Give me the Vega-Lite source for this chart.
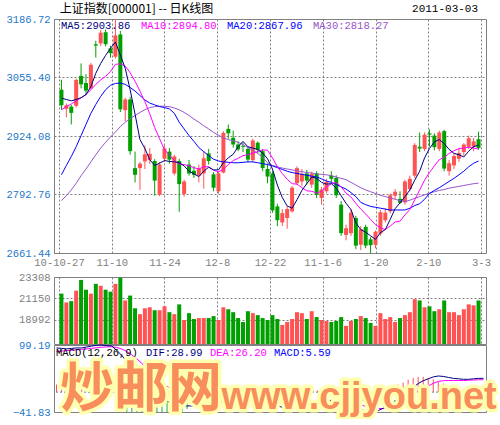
{
  "$schema": "https://vega.github.io/schema/vega-lite/v6.json",
  "background": "white",
  "padding": {"left": 5, "top": 2, "right": 0, "bottom": 0},
  "spacing": 24,
  "bounds": "flush",
  "config": {
    "view": {"stroke": "#808080", "strokeWidth": 1},
    "axis": {"labelFont": "Liberation Mono", "labelFontSize": 10.5, "ticks": false, "domain": false, "gridColor": "#808080", "gridDash": [2, 2], "gridOpacity": 1, "labelPadding": 4},
    "text": {"font": "Liberation Mono", "fontSize": 10.5}
  },
  "datasets": {
    "k": [
      {"d":"2010-10-27","i":0,"o":3028,"h":3050,"l":2983,"c":2993,"v":21640,"ma5":3009,"ma10":2983,"ma20":2837,"ma30":2779,"dif":93,"dea":85,"macd":16},
      {"d":"2010-10-28","i":1,"o":2985,"h":2997,"l":2966,"c":2993,"v":20757,"ma5":3006,"ma10":2990,"ma20":2858,"ma30":2790,"dif":92,"dea":86.4,"macd":11.2},
      {"d":"2010-10-29","i":2,"o":2990,"h":2994,"l":2950,"c":2976,"v":20885,"ma5":3003,"ma10":2996,"ma20":2878,"ma30":2803,"dif":91,"dea":87.3,"macd":7.4},
      {"d":"2010-11-01","i":3,"o":2992,"h":3053,"l":2988,"c":3050,"v":21935,"ma5":3006,"ma10":3003,"ma20":2900,"ma30":2818,"dif":92,"dea":88.2,"macd":7.6},
      {"d":"2010-11-02","i":4,"o":3059,"h":3087,"l":3031,"c":3040,"v":23014,"ma5":3010,"ma10":3010,"ma20":2925,"ma30":2835,"dif":93,"dea":89.2,"macd":7.6},
      {"d":"2010-11-03","i":5,"o":3043,"h":3063,"l":3016,"c":3026,"v":22033,"ma5":3017,"ma10":3017,"ma20":2950,"ma30":2850,"dif":93,"dea":90,"macd":6},
      {"d":"2010-11-04","i":6,"o":3031,"h":3088,"l":3029,"c":3084,"v":21640,"ma5":3035,"ma10":3028,"ma20":2975,"ma30":2866,"dif":95,"dea":91,"macd":8},
      {"d":"2010-11-05","i":7,"o":3130,"h":3138,"l":3100,"c":3127,"v":22621,"ma5":3065,"ma10":3040,"ma20":2995,"ma30":2882,"dif":97,"dea":92.2,"macd":9.6},
      {"d":"2010-11-08","i":8,"o":3132,"h":3162,"l":3126,"c":3156,"v":22425,"ma5":3087,"ma10":3050,"ma20":3013,"ma30":2897,"dif":98.5,"dea":93.5,"macd":10},
      {"d":"2010-11-09","i":9,"o":3157,"h":3163,"l":3125,"c":3130,"v":22033,"ma5":3105,"ma10":3058,"ma20":3028,"ma30":2910,"dif":99.19,"dea":94.6,"macd":9.18},
      {"d":"2010-11-10","i":10,"o":3121,"h":3127,"l":3100,"c":3110,"v":21837,"ma5":3121,"ma10":3069,"ma20":3038,"ma30":2922,"dif":98,"dea":95.3,"macd":5.4},
      {"d":"2010-11-11","i":11,"o":3102,"h":3186.72,"l":3098,"c":3150,"v":22621,"ma5":3135,"ma10":3085,"ma20":3042,"ma30":2933,"dif":97,"dea":95.6,"macd":2.8},
      {"d":"2010-11-12","i":12,"o":3152,"h":3160,"l":2978,"c":2984,"v":23245,"ma5":3106,"ma10":3086,"ma20":3043,"ma30":2945,"dif":88,"dea":94.1,"macd":-12.2},
      {"d":"2010-11-15","i":13,"o":2982,"h":3010,"l":2957,"c":3006,"v":20954,"ma5":3076,"ma10":3081,"ma20":3040,"ma30":2955,"dif":77,"dea":90.7,"macd":-27.4},
      {"d":"2010-11-16","i":14,"o":3006,"h":3012,"l":2882,"c":2890,"v":21444,"ma5":3028,"ma10":3066,"ma20":3033,"ma30":2963,"dif":64,"dea":85.4,"macd":-42.8},
      {"d":"2010-11-17","i":15,"o":2852,"h":2889,"l":2820,"c":2837,"v":20169,"ma5":2973,"ma10":3047,"ma20":3025,"ma30":2970,"dif":50,"dea":78.3,"macd":-56.6},
      {"d":"2010-11-18","i":16,"o":2852,"h":2866,"l":2803,"c":2862,"v":19580,"ma5":2916,"ma10":3025,"ma20":3015,"ma30":2977,"dif":37,"dea":70,"macd":-66},
      {"d":"2010-11-19","i":17,"o":2867,"h":2903,"l":2850,"c":2883,"v":20169,"ma5":2896,"ma10":3001,"ma20":3005,"ma30":2983,"dif":22,"dea":60.4,"macd":-76.8},
      {"d":"2010-11-22","i":18,"o":2870,"h":2897,"l":2861,"c":2884,"v":20267,"ma5":2871,"ma10":2974,"ma20":2998,"ma30":2988,"dif":10,"dea":50.3,"macd":-80.6},
      {"d":"2010-11-23","i":19,"o":2868,"h":2872,"l":2790,"c":2824,"v":19973,"ma5":2858,"ma10":2943,"ma20":2994,"ma30":2990,"dif":-4,"dea":39.4,"macd":-86.8},
      {"d":"2010-11-24","i":20,"o":2792,"h":2866,"l":2789,"c":2860,"v":19973,"ma5":2863,"ma10":2918,"ma20":2990,"ma30":2991,"dif":-11,"dea":29.3,"macd":-80.6},
      {"d":"2010-11-25","i":21,"o":2873,"h":2903,"l":2866,"c":2896,"v":20365,"ma5":2869,"ma10":2893,"ma20":2988,"ma30":2991,"dif":-15,"dea":20.4,"macd":-70.8},
      {"d":"2010-11-26","i":22,"o":2889,"h":2897,"l":2862,"c":2871,"v":19777,"ma5":2867,"ma10":2881,"ma20":2985,"ma30":2990,"dif":-19,"dea":12.5,"macd":-63},
      {"d":"2010-11-29","i":23,"o":2840,"h":2882,"l":2836,"c":2878,"v":19580,"ma5":2866,"ma10":2869,"ma20":2975,"ma30":2987,"dif":-24,"dea":5.2,"macd":-58.4},
      {"d":"2010-11-30","i":24,"o":2868,"h":2873,"l":2754,"c":2816,"v":20561,"ma5":2864,"ma10":2861,"ma20":2955,"ma30":2983,"dif":-28,"dea":-1.4,"macd":-53.2},
      {"d":"2010-12-01","i":25,"o":2794,"h":2826,"l":2788,"c":2822,"v":18992,"ma5":2857,"ma10":2860,"ma20":2940,"ma30":2977,"dif":-29,"dea":-6.9,"macd":-44.2},
      {"d":"2010-12-02","i":26,"o":2860,"h":2870,"l":2835,"c":2840,"v":19679,"ma5":2845,"ma10":2857,"ma20":2925,"ma30":2970,"dif":-29,"dea":-11.3,"macd":-35.4},
      {"d":"2010-12-03","i":27,"o":2846,"h":2856,"l":2830,"c":2837,"v":19090,"ma5":2839,"ma10":2853,"ma20":2912,"ma30":2962,"dif":-29,"dea":-14.8,"macd":-28.4},
      {"d":"2010-12-06","i":28,"o":2835,"h":2860,"l":2820,"c":2852,"v":19188,"ma5":2833,"ma10":2850,"ma20":2898,"ma30":2955,"dif":-29,"dea":-17.6,"macd":-22.8},
      {"d":"2010-12-07","i":29,"o":2840,"h":2890,"l":2806,"c":2874,"v":19188,"ma5":2845,"ma10":2855,"ma20":2889,"ma30":2947,"dif":-29,"dea":-19.9,"macd":-18.2},
      {"d":"2010-12-08","i":30,"o":2885,"h":2895,"l":2860,"c":2868,"v":19188,"ma5":2854,"ma10":2855,"ma20":2880,"ma30":2940,"dif":-28,"dea":-21.5,"macd":-13},
      {"d":"2010-12-09","i":31,"o":2838,"h":2843,"l":2800,"c":2808,"v":19384,"ma5":2848,"ma10":2847,"ma20":2872,"ma30":2932,"dif":-26,"dea":-22.4,"macd":-7.2},
      {"d":"2010-12-10","i":32,"o":2800,"h":2845,"l":2795,"c":2840,"v":18992,"ma5":2848,"ma10":2844,"ma20":2868,"ma30":2926,"dif":-23,"dea":-22.5,"macd":-1},
      {"d":"2010-12-13","i":33,"o":2842,"h":2935,"l":2840,"c":2931,"v":20267,"ma5":2864,"ma10":2849,"ma20":2866,"ma30":2920,"dif":-19,"dea":-21.8,"macd":5.6},
      {"d":"2010-12-14","i":34,"o":2940,"h":2950,"l":2918,"c":2930,"v":20071,"ma5":2875,"ma10":2860,"ma20":2865,"ma30":2916,"dif":-17,"dea":-20.8,"macd":7.6},
      {"d":"2010-12-15","i":35,"o":2920,"h":2936,"l":2898,"c":2905,"v":19777,"ma5":2883,"ma10":2869,"ma20":2864,"ma30":2913,"dif":-16,"dea":-19.8,"macd":7.6},
      {"d":"2010-12-16","i":36,"o":2905,"h":2912,"l":2890,"c":2894,"v":19188,"ma5":2900,"ma10":2874,"ma20":2864,"ma30":2910,"dif":-15,"dea":-18.8,"macd":7.6},
      {"d":"2010-12-17","i":37,"o":2902,"h":2910,"l":2888,"c":2900,"v":18796,"ma5":2912,"ma10":2880,"ma20":2865,"ma30":2905,"dif":-15,"dea":-18,"macd":6},
      {"d":"2010-12-20","i":38,"o":2895,"h":2900,"l":2865,"c":2871,"v":19875,"ma5":2900,"ma10":2882,"ma20":2866,"ma30":2898,"dif":-14,"dea":-17.2,"macd":6.4},
      {"d":"2010-12-21","i":39,"o":2870,"h":2918,"l":2865,"c":2914,"v":19679,"ma5":2897,"ma10":2886,"ma20":2866,"ma30":2892,"dif":-12,"dea":-16.2,"macd":8.4},
      {"d":"2010-12-22","i":40,"o":2909,"h":2912,"l":2885,"c":2893,"v":19482,"ma5":2894,"ma10":2889,"ma20":2864,"ma30":2885,"dif":-9,"dea":-14.8,"macd":11.6},
      {"d":"2010-12-23","i":41,"o":2890,"h":2895,"l":2845,"c":2852,"v":19188,"ma5":2886,"ma10":2893,"ma20":2862,"ma30":2876,"dif":-10,"dea":-13.8,"macd":7.6},
      {"d":"2010-12-24","i":42,"o":2850,"h":2862,"l":2818,"c":2833,"v":18992,"ma5":2873,"ma10":2892,"ma20":2860,"ma30":2864,"dif":-17,"dea":-14.4,"macd":-5.2},
      {"d":"2010-12-27","i":43,"o":2840,"h":2845,"l":2752,"c":2757,"v":19482,"ma5":2850,"ma10":2875,"ma20":2857,"ma30":2858,"dif":-24,"dea":-16.3,"macd":-15.4},
      {"d":"2010-12-28","i":44,"o":2766,"h":2772,"l":2722,"c":2735,"v":19090,"ma5":2814,"ma10":2855,"ma20":2853,"ma30":2855,"dif":-29,"dea":-18.8,"macd":-20.4},
      {"d":"2010-12-29","i":45,"o":2730,"h":2760,"l":2722,"c":2751,"v":18500,"ma5":2786,"ma10":2840,"ma20":2849,"ma30":2852,"dif":-32,"dea":-21.4,"macd":-21.2},
      {"d":"2010-12-30","i":46,"o":2740,"h":2766,"l":2716,"c":2760,"v":18796,"ma5":2767,"ma10":2827,"ma20":2845,"ma30":2850,"dif":-33,"dea":-23.7,"macd":-18.6},
      {"d":"2010-12-31","i":47,"o":2755,"h":2812,"l":2752,"c":2808,"v":19090,"ma5":2762,"ma10":2817,"ma20":2842,"ma30":2848,"dif":-26,"dea":-24.2,"macd":-3.6},
      {"d":"2011-01-04","i":48,"o":2818,"h":2856,"l":2815,"c":2852,"v":19777,"ma5":2781,"ma10":2816,"ma20":2840,"ma30":2846,"dif":-22,"dea":-23.8,"macd":3.6},
      {"d":"2011-01-05","i":49,"o":2822,"h":2850,"l":2812,"c":2839,"v":19679,"ma5":2802,"ma10":2808,"ma20":2838,"ma30":2844,"dif":-21,"dea":-23.2,"macd":4.4},
      {"d":"2011-01-06","i":50,"o":2840,"h":2848,"l":2815,"c":2824,"v":19090,"ma5":2817,"ma10":2801,"ma20":2836,"ma30":2842,"dif":-21,"dea":-22.8,"macd":3.6},
      {"d":"2011-01-07","i":51,"o":2815,"h":2844,"l":2808,"c":2839,"v":19875,"ma5":2832,"ma10":2800,"ma20":2834,"ma30":2841,"dif":-20,"dea":-22.2,"macd":4.4},
      {"d":"2011-01-10","i":52,"o":2840,"h":2845,"l":2785,"c":2792,"v":19286,"ma5":2829,"ma10":2796,"ma20":2832,"ma30":2839,"dif":-20,"dea":-21.8,"macd":3.6},
      {"d":"2011-01-11","i":53,"o":2785,"h":2810,"l":2770,"c":2804,"v":18992,"ma5":2820,"ma10":2800,"ma20":2828,"ma30":2838,"dif":-19,"dea":-21.2,"macd":4.4},
      {"d":"2011-01-12","i":54,"o":2800,"h":2828,"l":2795,"c":2821,"v":18894,"ma5":2816,"ma10":2809,"ma20":2823,"ma30":2837,"dif":-18,"dea":-20.6,"macd":5.2},
      {"d":"2011-01-13","i":55,"o":2835,"h":2845,"l":2820,"c":2828,"v":18796,"ma5":2817,"ma10":2817,"ma20":2820,"ma30":2835,"dif":-17,"dea":-19.9,"macd":5.8},
      {"d":"2011-01-14","i":56,"o":2830,"h":2836,"l":2785,"c":2791,"v":18894,"ma5":2807,"ma10":2820,"ma20":2815,"ma30":2832,"dif":-19,"dea":-19.7,"macd":1.4},
      {"d":"2011-01-17","i":57,"o":2770,"h":2778,"l":2700,"c":2706,"v":19286,"ma5":2790,"ma10":2810,"ma20":2810,"ma30":2829,"dif":-24,"dea":-20.6,"macd":-6.8},
      {"d":"2011-01-18","i":58,"o":2702,"h":2725,"l":2690,"c":2717,"v":18403,"ma5":2773,"ma10":2796,"ma20":2805,"ma30":2826,"dif":-28,"dea":-22.1,"macd":-11.8},
      {"d":"2011-01-19","i":59,"o":2706,"h":2760,"l":2700,"c":2752,"v":18894,"ma5":2759,"ma10":2787,"ma20":2797,"ma30":2820,"dif":-30,"dea":-23.7,"macd":-12.6},
      {"d":"2011-01-20","i":60,"o":2740,"h":2745,"l":2670,"c":2678,"v":19090,"ma5":2729,"ma10":2773,"ma20":2788,"ma30":2814,"dif":-35,"dea":-26,"macd":-18},
      {"d":"2011-01-21","i":61,"o":2680,"h":2722,"l":2668,"c":2715,"v":19384,"ma5":2714,"ma10":2760,"ma20":2775,"ma30":2808,"dif":-38,"dea":-28.4,"macd":-19.2},
      {"d":"2011-01-24","i":62,"o":2720,"h":2725,"l":2672,"c":2678,"v":19188,"ma5":2708,"ma10":2749,"ma20":2770,"ma30":2803,"dif":-40,"dea":-30.7,"macd":-18.6},
      {"d":"2011-01-25","i":63,"o":2692,"h":2697,"l":2661.44,"c":2679,"v":18698,"ma5":2700,"ma10":2737,"ma20":2766,"ma30":2799,"dif":-41.83,"dea":-32.8,"macd":-18.06},
      {"d":"2011-01-26","i":64,"o":2680,"h":2712,"l":2672,"c":2709,"v":18403,"ma5":2692,"ma10":2725,"ma20":2764,"ma30":2795,"dif":-39,"dea":-34,"macd":-10},
      {"d":"2011-01-27","i":65,"o":2705,"h":2758,"l":2700,"c":2753,"v":19679,"ma5":2707,"ma10":2718,"ma20":2762,"ma30":2791,"dif":-34,"dea":-35,"macd":2},
      {"d":"2011-01-28","i":66,"o":2735,"h":2762,"l":2730,"c":2752,"v":19090,"ma5":2714,"ma10":2714,"ma20":2760,"ma30":2788,"dif":-28,"dea":-32,"macd":8},
      {"d":"2011-01-31","i":67,"o":2755,"h":2795,"l":2750,"c":2791,"v":19286,"ma5":2737,"ma10":2722,"ma20":2758,"ma30":2785,"dif":-21,"dea":-27,"macd":12},
      {"d":"2011-02-01","i":68,"o":2790,"h":2805,"l":2782,"c":2799,"v":18796,"ma5":2761,"ma10":2731,"ma20":2758,"ma30":2782,"dif":-14,"dea":-22,"macd":16},
      {"d":"2011-02-09","i":69,"o":2783,"h":2800,"l":2772,"c":2774,"v":19188,"ma5":2774,"ma10":2733,"ma20":2758,"ma30":2779,"dif":-8,"dea":-18,"macd":20},
      {"d":"2011-02-10","i":70,"o":2775,"h":2826,"l":2770,"c":2822,"v":19482,"ma5":2788,"ma10":2747,"ma20":2758,"ma30":2777,"dif":2,"dea":-11,"macd":26},
      {"d":"2011-02-11","i":71,"o":2805,"h":2835,"l":2800,"c":2828,"v":19777,"ma5":2803,"ma10":2759,"ma20":2762,"ma30":2780,"dif":10,"dea":-5,"macd":30},
      {"d":"2011-02-14","i":72,"o":2835,"h":2908,"l":2830,"c":2904,"v":21081,"ma5":2825,"ma10":2781,"ma20":2768,"ma30":2784,"dif":18,"dea":2,"macd":32},
      {"d":"2011-02-15","i":73,"o":2900,"h":2932,"l":2888,"c":2896,"v":20954,"ma5":2845,"ma10":2803,"ma20":2772,"ma30":2788,"dif":24,"dea":8,"macd":32},
      {"d":"2011-02-16","i":74,"o":2895,"h":2932,"l":2890,"c":2927,"v":20267,"ma5":2875,"ma10":2825,"ma20":2782,"ma30":2792,"dif":28,"dea":13,"macd":30},
      {"d":"2011-02-17","i":75,"o":2930,"h":2939,"l":2900,"c":2927,"v":20365,"ma5":2896,"ma10":2842,"ma20":2795,"ma30":2796,"dif":32,"dea":18.5,"macd":27},
      {"d":"2011-02-18","i":76,"o":2925,"h":2930,"l":2892,"c":2899,"v":19875,"ma5":2911,"ma10":2857,"ma20":2802,"ma30":2799,"dif":34,"dea":22.5,"macd":23},
      {"d":"2011-02-21","i":77,"o":2895,"h":2936,"l":2890,"c":2932,"v":20071,"ma5":2916,"ma10":2871,"ma20":2808,"ma30":2802,"dif":33,"dea":24,"macd":18},
      {"d":"2011-02-22","i":78,"o":2935,"h":2938,"l":2845,"c":2851,"v":20954,"ma5":2907,"ma10":2876,"ma20":2815,"ma30":2804,"dif":31,"dea":24.5,"macd":13},
      {"d":"2011-02-23","i":79,"o":2845,"h":2870,"l":2835,"c":2863,"v":19777,"ma5":2894,"ma10":2885,"ma20":2822,"ma30":2807,"dif":29,"dea":24.5,"macd":9},
      {"d":"2011-02-24","i":80,"o":2858,"h":2885,"l":2850,"c":2879,"v":19777,"ma5":2885,"ma10":2891,"ma20":2829,"ma30":2809,"dif":28,"dea":24.5,"macd":7},
      {"d":"2011-02-25","i":81,"o":2873,"h":2895,"l":2866,"c":2886,"v":19482,"ma5":2882,"ma10":2896,"ma20":2837,"ma30":2811,"dif":27,"dea":24.5,"macd":5},
      {"d":"2011-02-28","i":82,"o":2888,"h":2908,"l":2880,"c":2905,"v":20071,"ma5":2877,"ma10":2897,"ma20":2845,"ma30":2813,"dif":27,"dea":25,"macd":4},
      {"d":"2011-03-01","i":83,"o":2900,"h":2925,"l":2895,"c":2919,"v":20561,"ma5":2890,"ma10":2899,"ma20":2855,"ma30":2815,"dif":28,"dea":25.5,"macd":5},
      {"d":"2011-03-02","i":84,"o":2900,"h":2920,"l":2890,"c":2912,"v":20463,"ma5":2900,"ma10":2897,"ma20":2863,"ma30":2817,"dif":29,"dea":26,"macd":6},
      {"d":"2011-03-03","i":85,"o":2917,"h":2934,"l":2893,"c":2897,"v":20954,"ma5":2903.86,"ma10":2894.8,"ma20":2867.96,"ma30":2818.27,"dif":28.99,"dea":26.2,"macd":5.59}
    ]
  },
  "vconcat": [
    {
      "width": 432,
      "height": 234,
      "data": {"name": "k"},
      "layer": [
        {
          "mark": {"type": "rule", "strokeWidth": 1},
          "encoding": {
            "x": {"field": "i", "type": "quantitative", "title": null,
                  "scale": {"domain": [-0.5, 85.5], "nice": false, "zero": false},
                  "axis": {"values": [-0.5, 10.25, 21, 31.75, 42.5, 53.25, 64, 74.75, 85.5], "grid": true, "labelColor": "#808080", "labelFlush": false, "labelOverlap": false,
                           "labelExpr": "['10-10-27','11-10','11-24','12-8','12-22','11-1-6','1-20','2-10','3-3'][round((datum.value + 0.5) / 10.75)]"}},
            "y": {"field": "l", "type": "quantitative", "title": null,
                  "scale": {"domain": [2661.44, 3186.72], "nice": false, "zero": false},
                  "axis": {"values": [2661.44, 2727.1, 2792.76, 2858.42, 2924.08, 2989.74, 3055.4, 3121.06, 3186.72], "format": ".2f", "grid": true, "labelColor": "#1E78C8"}},
            "y2": {"field": "h"},
            "color": {"condition": {"test": "datum.c >= datum.o", "value": "#FF5353"}, "value": "#00A000"}
          }
        },
        {
          "mark": {"type": "bar", "size": 4},
          "encoding": {
            "x": {"field": "i", "type": "quantitative", "title": null},
            "y": {"field": "o", "type": "quantitative", "title": null},
            "y2": {"field": "c"},
            "color": {"condition": {"test": "datum.c >= datum.o", "value": "#FF5353"}, "value": "#00A000"}
          }
        },
        {"mark": {"type": "line", "color": "#9955CC", "strokeWidth": 1}, "encoding": {"x": {"field": "i", "type": "quantitative", "title": null}, "y": {"field": "ma30", "type": "quantitative", "title": null}}},
        {"mark": {"type": "line", "color": "#0000FF", "strokeWidth": 1}, "encoding": {"x": {"field": "i", "type": "quantitative", "title": null}, "y": {"field": "ma20", "type": "quantitative", "title": null}}},
        {"mark": {"type": "line", "color": "#FF00FF", "strokeWidth": 1}, "encoding": {"x": {"field": "i", "type": "quantitative", "title": null}, "y": {"field": "ma10", "type": "quantitative", "title": null}}},
        {"mark": {"type": "line", "color": "#000080", "strokeWidth": 1}, "encoding": {"x": {"field": "i", "type": "quantitative", "title": null}, "y": {"field": "ma5", "type": "quantitative", "title": null}}},
        {"data": {"values": [{}]}, "mark": {"type": "text", "text": "MA5:2903.86", "color": "#000080", "align": "left", "baseline": "middle"}, "encoding": {"x": {"datum": -0.1}, "y": {"datum": 3171}}},
        {"data": {"values": [{}]}, "mark": {"type": "text", "text": "MA10:2894.80", "color": "#FF00FF", "align": "left", "baseline": "middle"}, "encoding": {"x": {"datum": 16.22}, "y": {"datum": 3171}}},
        {"data": {"values": [{}]}, "mark": {"type": "text", "text": "MA20:2867.96", "color": "#0000FF", "align": "left", "baseline": "middle"}, "encoding": {"x": {"datum": 33.74}, "y": {"datum": 3171}}},
        {"data": {"values": [{}]}, "mark": {"type": "text", "text": "MA30:2818.27", "color": "#9955CC", "align": "left", "baseline": "middle"}, "encoding": {"x": {"datum": 51.26}, "y": {"datum": 3171}}},
        {"data": {"values": [{}]}, "mark": {"type": "text", "text": "上证指数[000001] -- 日K线图", "font": "Noto Sans CJK SC", "fontSize": 12, "color": "#000000", "align": "left", "baseline": "middle"}, "encoding": {"x": {"datum": -0.35}, "y": {"datum": 3209}}},
        {"data": {"values": [{}]}, "mark": {"type": "text", "text": "2011-03-03", "fontSize": 11, "color": "#000000", "align": "right", "baseline": "middle"}, "encoding": {"x": {"datum": 84.9}, "y": {"datum": 3209}}}
      ]
    },
    {
      "spacing": 1,
      "bounds": "flush",
      "vconcat": [
        {
          "width": 432,
          "height": 67,
          "data": {"name": "k"},
          "mark": {"type": "bar", "size": 4},
          "encoding": {
            "x": {"field": "i", "type": "quantitative", "title": null,
                  "scale": {"domain": [-0.5, 85.5], "nice": false, "zero": false},
                  "axis": {"values": [-0.5, 10.25, 21, 31.75, 42.5, 53.25, 64, 74.75, 85.5], "labels": false, "grid": true}},
            "y": {"field": "v", "type": "quantitative", "title": null,
                  "scale": {"domain": [16583, 23308], "nice": false, "zero": false},
                  "axis": {"values": [18992, 21150, 23308], "format": "d", "grid": true, "labelColor": "#808080"}},
            "y2": {"datum": 16583},
            "color": {"condition": {"test": "datum.c >= datum.o", "value": "#FF5353"}, "value": "#00A000"}
          }
        },
        {
          "width": 432,
          "height": 67,
          "data": {"name": "k"},
          "layer": [
            {
              "mark": {"type": "rule", "strokeWidth": 1, "clip": true},
              "encoding": {
                "x": {"field": "i", "type": "quantitative", "title": null,
                      "scale": {"domain": [-0.5, 85.5], "nice": false, "zero": false}, "axis": null},
                "y": {"field": "macd", "type": "quantitative", "title": null,
                      "scale": {"domain": [-41.83, 99.19], "nice": false, "zero": false},
                      "axis": {"values": [-41.83, 0, 99.19], "format": ".2f", "grid": false, "labelColor": "#1E78C8"}},
                "y2": {"datum": 0},
                "color": {"condition": {"test": "datum.macd >= 0", "value": "#FF5353"}, "value": "#22B022"}
              }
            },
            {"data": {"values": [{}]}, "mark": {"type": "rule", "color": "#808080", "strokeDash": [2, 2], "strokeWidth": 1}, "encoding": {"y": {"datum": 0, "title": null}}},
            {"mark": {"type": "line", "color": "#FF00FF", "strokeWidth": 1}, "encoding": {"x": {"field": "i", "type": "quantitative", "title": null}, "y": {"field": "dea", "type": "quantitative", "title": null}}},
            {"mark": {"type": "line", "color": "#000080", "strokeWidth": 1}, "encoding": {"x": {"field": "i", "type": "quantitative", "title": null}, "y": {"field": "dif", "type": "quantitative", "title": null}}},
            {"data": {"values": [{}]}, "mark": {"type": "text", "text": "MACD(12,26,9)", "color": "#000000", "align": "left", "baseline": "middle"}, "encoding": {"x": {"datum": -0.1}, "y": {"datum": 82.3}}},
            {"data": {"values": [{}]}, "mark": {"type": "text", "text": "DIF:28.99", "color": "#000080", "align": "left", "baseline": "middle"}, "encoding": {"x": {"datum": 17.8}, "y": {"datum": 82.3}}},
            {"data": {"values": [{}]}, "mark": {"type": "text", "text": "DEA:26.20", "color": "#FF00FF", "align": "left", "baseline": "middle"}, "encoding": {"x": {"datum": 30.56}, "y": {"datum": 82.3}}},
            {"data": {"values": [{}]}, "mark": {"type": "text", "text": "MACD:5.59", "color": "#0000FF", "align": "left", "baseline": "middle"}, "encoding": {"x": {"datum": 43.3}, "y": {"datum": 82.3}}},
            {"data": {"values": [{}]}, "mark": {"type": "text", "text": "炒邮网", "font": "Noto Sans CJK SC", "fontSize": 54, "fontWeight": "bold", "fill": "#F88E5C", "stroke": "#FFFFB0", "strokeWidth": 7, "strokeJoin": "round", "align": "center", "baseline": "alphabetic"}, "encoding": {"x": {"datum": 16.82}, "y": {"datum": -32}}},
            {"data": {"values": [{}]}, "mark": {"type": "text", "text": "炒邮网", "font": "Noto Sans CJK SC", "fontSize": 54, "fontWeight": "bold", "fill": "#F88E5C", "align": "center", "baseline": "alphabetic"}, "encoding": {"x": {"datum": 16.82}, "y": {"datum": -32}}},
            {"data": {"values": [{}]}, "mark": {"type": "text", "text": "www.cjjyou.net", "font": "Liberation Sans", "fontSize": 38, "fontWeight": "bold", "fill": "#F88E5C", "stroke": "#FFFFB0", "strokeWidth": 7, "strokeJoin": "round", "align": "left", "baseline": "alphabetic"}, "encoding": {"x": {"datum": 32.85}, "y": {"datum": -35.5}}},
            {"data": {"values": [{}]}, "mark": {"type": "text", "text": "www.cjjyou.net", "font": "Liberation Sans", "fontSize": 38, "fontWeight": "bold", "fill": "#F88E5C", "align": "left", "baseline": "alphabetic"}, "encoding": {"x": {"datum": 32.85}, "y": {"datum": -35.5}}}
          ]
        }
      ]
    }
  ]
}
